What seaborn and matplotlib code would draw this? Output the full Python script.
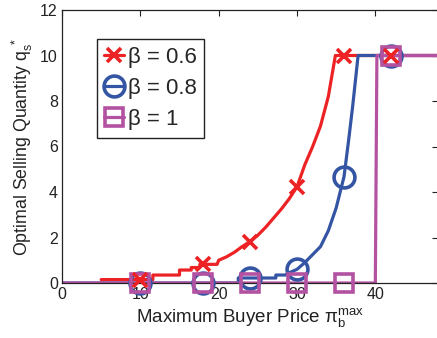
import matplotlib
matplotlib.use("Agg")
import matplotlib.pyplot as plt
from matplotlib.lines import Line2D
import pandas as pd
import seaborn as sns

# Optimal selling quantity vs. maximum buyer price, three beta settings
beta_labels = ["β = 0.6", "β = 0.8", "β = 1"]
colors = ["#ec2224", "#3454a4", "#b452a2"]

red_x = [5, 11.6, 11.6, 15, 15, 16.5, 16.5, 17.6, 17.6, 19.8, 20, 21, 22, 23, 24,
         25, 26, 27, 28, 29, 30, 31, 32, 33, 34, 34.9, 48]
red_q = [0.15, 0.15, 0.35, 0.35, 0.57, 0.57, 0.68, 0.68, 0.82, 0.82, 1.0, 1.15, 1.35,
         1.6, 1.82, 2.1, 2.45, 2.85, 3.25, 3.7, 4.23, 5.2, 6.0, 6.9, 8.2, 10, 10]

blue_x = [0, 22.5, 22.5, 27.3, 27.3, 28.5, 29, 30, 31, 32, 33, 34, 35, 36, 36.6, 37.1,
          37.8, 48]
blue_q = [0, 0, 0.22, 0.22, 0.35, 0.35, 0.45, 0.6, 0.9, 1.25, 1.6, 2.3, 3.3, 4.67, 6.3,
          7.75, 10, 10]

mag_x = [0, 40.0, 40.2, 48]
mag_q = [0, 0, 10, 10]

mark_x = [10, 18, 24, 30, 36, 42]
red_mark = [0.15, 0.82, 1.82, 4.23, 10, 10]
blue_mark = [0, 0, 0.22, 0.6, 4.67, 10]
mag_mark = [0, 0, 0, 0, 0, 10]

sns.set_style("white")
plt.rcParams["font.family"] = ["Liberation Sans", "DejaVu Sans"]
plt.rcParams["mathtext.fontset"] = "custom"
plt.rcParams["mathtext.rm"] = "Liberation Sans"

fig = plt.figure(figsize=(4.37, 3.38), dpi=100)
ax = fig.add_axes([62 / 437, 55 / 338, 376 / 437, 273 / 338])

lw = 2.3
for xs, qs, c in [(red_x, red_q, colors[0]), (blue_x, blue_q, colors[1]),
                  (mag_x, mag_q, colors[2])]:
    df = pd.DataFrame({"p": xs, "q": qs})
    sns.lineplot(data=df, x="p", y="q", ax=ax, color=c, lw=lw,
                 estimator=None, sort=False)

marker_specs = [
    ("o", 15, blue_mark, colors[1]),
    ("s", 12.5, mag_mark, colors[2]),
    ("x", 10, red_mark, colors[0]),
]
for m, ms, qs, c in marker_specs:
    df = pd.DataFrame({"p": mark_x, "q": qs})
    sns.lineplot(data=df, x="p", y="q", ax=ax, color=c, lw=0, marker=m,
                 markersize=ms, markeredgewidth=2.6, markerfacecolor="none",
                 markeredgecolor=c, estimator=None, sort=False, clip_on=False,
                 zorder=3)

ax.set_xlim(0, 48)
ax.set_ylim(0, 12)
ax.set_xticks([0, 10, 20, 30, 40])
ax.set_yticks([0, 2, 4, 6, 8, 10, 12])
ax.tick_params(direction="in", length=4, width=0.8, labelsize=11.5,
               top=True, right=True, colors="#222222", labelcolor="#222222", pad=3)
for s in ax.spines.values():
    s.set_linewidth(0.9)
    s.set_color("#222222")

ax.set_xlabel(r"Maximum Buyer Price $\mathregular{π_b^{max}}$", fontsize=13.5,
              color="#222222", labelpad=3)
ax.set_ylabel(r"Optimal Selling Quantity $\mathregular{q_s^{\ *}}$", fontsize=12.8,
              color="#222222", labelpad=4)

handles = [
    Line2D([], [], color=colors[0], lw=lw, marker="x", ms=10, mew=2.6),
    Line2D([], [], color=colors[1], lw=lw, marker="o", ms=15, mew=2.6, mfc="none"),
    Line2D([], [], color=colors[2], lw=lw, marker="s", ms=12.5, mew=2.6, mfc="none"),
]
leg = ax.legend(handles, beta_labels, loc="upper left",
                bbox_to_anchor=(0.092, 0.893), borderaxespad=0, fontsize=16,
                handlelength=0.9, handletextpad=0.15, labelspacing=0.45,
                borderpad=0.35, fancybox=False, framealpha=1)
leg.get_frame().set_edgecolor("#222222")
leg.get_frame().set_linewidth(1.0)

fig.savefig("out.png", dpi=100)
